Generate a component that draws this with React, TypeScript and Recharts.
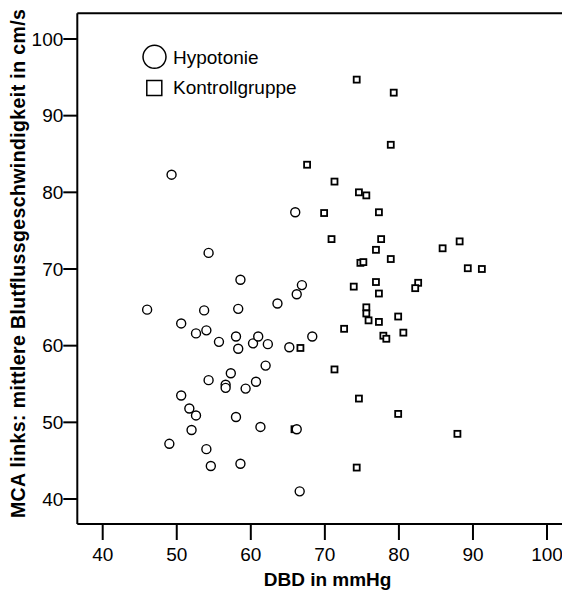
import React from "react";
import {
  Legend,
  ReferenceLine,
  Scatter,
  ScatterChart,
  XAxis,
  YAxis,
} from "recharts";

// Hypotonie: DBD (mmHg) / MCA mean flow (cm/s)
const hypoDBD = [
  58.6, 66.9, 66.2, 63.6, 46.0, 53.7, 58.3, 50.6, 52.6, 54.0, 55.7, 58.0, 58.3,
  60.3, 61.0, 62.3, 65.2, 68.3, 62.0, 57.3, 54.3, 56.6, 56.6, 59.3, 60.7, 50.6,
  51.7, 52.6, 58.0, 52.0, 61.3, 66.2, 49.0, 54.0, 54.6, 58.6, 66.6, 49.3, 66.0,
  54.3,
];
const hypoMCA = [
  68.6, 67.9, 66.7, 65.5, 64.7, 64.6, 64.8, 62.9, 61.6, 62.0, 60.5, 61.2, 59.6,
  60.3, 61.2, 60.2, 59.8, 61.2, 57.4, 56.4, 55.5, 54.9, 54.5, 54.4, 55.3, 53.5,
  51.8, 50.9, 50.7, 49.0, 49.4, 49.1, 47.2, 46.5, 44.3, 44.6, 41.0, 82.3, 77.4,
  72.1,
];

// Kontrollgruppe
const kontrDBD = [
  74.3, 79.3, 78.9, 67.6, 71.3, 74.6, 75.6, 69.9, 77.3, 70.9, 77.6, 76.9, 85.9,
  88.2, 78.9, 74.8, 75.2, 89.3, 91.2, 73.9, 76.9, 77.3, 82.6, 82.2, 75.6, 75.6,
  75.9, 77.3, 79.9, 72.6, 80.6, 77.9, 78.3, 66.7, 71.3, 74.6, 79.9, 87.9, 74.3,
  65.9,
];
const kontrMCA = [
  94.7, 93.0, 86.2, 83.6, 81.4, 80.0, 79.6, 77.3, 77.4, 73.9, 73.9, 72.5, 72.7,
  73.6, 71.3, 70.8, 70.9, 70.1, 70.0, 67.7, 68.3, 66.8, 68.2, 67.5, 65.0, 64.2,
  63.3, 63.1, 63.8, 62.2, 61.7, 61.3, 60.9, 59.7, 56.9, 53.1, 51.1, 48.5, 44.1,
  49.1,
];

const xTicks = [40, 50, 60, 70, 80, 90, 100];
const yTicks = [40, 50, 60, 70, 80, 90, 100];
const xDomain = [36.57, 103.4];
const yDomain = [36.74, 103.35];

const hypoData = hypoDBD.map((x, i) => ({ x, y: hypoMCA[i] }));
const kontrData = kontrDBD.map((x, i) => ({ x, y: kontrMCA[i] }));

const FONT = '"Liberation Sans", Arial, Helvetica, sans-serif';

const CircleShape = (props: any) => (
  <circle cx={props.cx} cy={props.cy} r={4.5} fill="#fff" stroke="#000" strokeWidth={1.4} />
);

const SquareShape = (props: any) => (
  <rect
    x={props.cx - 3}
    y={props.cy - 3}
    width={6}
    height={6}
    fill="#fff"
    stroke="#000"
    strokeWidth={1.8}
  />
);

const LegendBox = () => (
  <svg width={200} height={70} style={{ display: "block", fontFamily: FONT }}>
    <circle cx={24.5} cy={21.8} r={11.5} fill="#fff" stroke="#000" strokeWidth={1.5} />
    <text x={43} y={29} fontSize={19} fill="#000">
      Hypotonie
    </text>
    <rect x={16.8} y={45.5} width={15} height={15} fill="#fff" stroke="#000" strokeWidth={1.5} />
    <text x={43} y={59} fontSize={19} fill="#000">
      Kontrollgruppe
    </text>
  </svg>
);

const YLabel = () => (
  <text
    x={17}
    y={255.6}
    transform="rotate(-90, 17, 255.6)"
    textAnchor="middle"
    fontSize={19.5}
    fontWeight="bold"
    fill="#000"
    fontFamily={FONT}
    textLength={509}
    lengthAdjust="spacing"
  >
    MCA links: mittlere Blutflussgeschwindigkeit in cm/s
  </text>
);

const XLabel = () => (
  <text
    x={319.6}
    y={578}
    textAnchor="middle"
    fontSize={19}
    fontWeight="bold"
    fill="#000"
    fontFamily={FONT}
  >
    DBD in mmHg
  </text>
);

export default function App() {
  const tickStyle = { fill: "#000", fontSize: 19, fontFamily: FONT };
  const lineStyle = { stroke: "#000", strokeWidth: 2 };
  return (
    <div style={{ width: 562, height: 588, overflow: "hidden", fontFamily: FONT }}>
      <ScatterChart
        width={600}
        height={588}
        margin={{ top: 5.3, right: 35.8, bottom: 0, left: 0 }}
      >
        <XAxis
          type="number"
          dataKey="x"
          domain={xDomain}
          ticks={xTicks}
          allowDataOverflow
          height={72}
          tickSize={16}
          tickMargin={8}
          tick={tickStyle}
          axisLine={lineStyle}
          tickLine={lineStyle}
          label={<XLabel />}
        />
        <YAxis
          type="number"
          dataKey="y"
          domain={yDomain}
          ticks={yTicks}
          allowDataOverflow
          width={69.3}
          tickSize={14}
          tickMargin={0}
          tick={tickStyle}
          axisLine={lineStyle}
          tickLine={lineStyle}
          label={<YLabel />}
        />
        <ReferenceLine y={yDomain[1]} stroke="#000" strokeWidth={2} />
        <ReferenceLine x={xDomain[1]} stroke="#000" strokeWidth={2} />
        <Legend
          layout="vertical"
          verticalAlign="middle"
          align="center"
          wrapperStyle={{ left: 122, top: 27, width: 200 }}
          content={() => <LegendBox />}
        />
        <Scatter
          name="Kontrollgruppe"
          data={kontrData}
          shape={SquareShape}
          isAnimationActive={false}
        />
        <Scatter
          name="Hypotonie"
          data={hypoData}
          shape={CircleShape}
          isAnimationActive={false}
        />
      </ScatterChart>
    </div>
  );
}
